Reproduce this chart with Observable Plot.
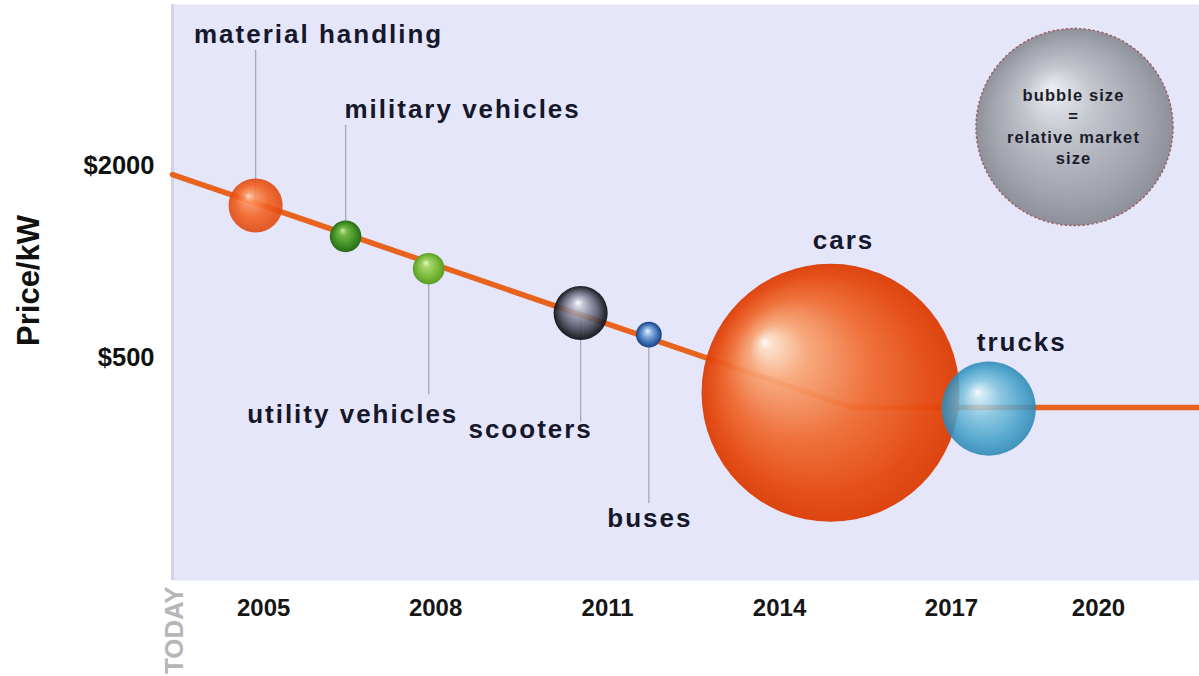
<!DOCTYPE html>
<html>
<head>
<meta charset="utf-8">
<script src="https://cdn.jsdelivr.net/npm/d3@7"></script>
<script src="https://cdn.jsdelivr.net/npm/@observablehq/plot@0.6"></script>
<style>
  html, body { margin: 0; padding: 0; background: #ffffff; }
  #chart svg { display: block; }
  g[font-size="26"] text { letter-spacing: 2px; }
  g[font-size="16.5"] text { letter-spacing: 1.1px; }
</style>
</head>
<body>
<div id="chart"></div>
<script>
// ---------- data ----------
const categories = ["material handling", "military vehicles", "utility vehicles", "scooters", "buses", "cars", "trucks"];
const years      = [2004.86, 2006.43, 2007.88, 2010.53, 2011.72, 2014.89, 2017.76];
const prices     = [1500, 1200, 950, 690, 590, 388, 346];
const marketSize = [4.4, 1.5, 1.5, 4.4, 1.0, 100, 13.3];
const trendYears  = [2003.41, 2015.24, 2022.06];
const trendPrices = [1875, 349, 349];
const xTicks = [2005, 2008, 2011, 2014, 2017, 2020];
const yTicks = [500, 2000];
const legendLines = ["bubble size", "=", "relative market", "size"];
const yTitle = "Price/kW";
const todayLabel = "TODAY";

// ---------- layout (pixel offsets for labels and leader lines) ----------
const labelLayout = {
  "material handling": {dx: 63,  dy: -171, leader: 155, up: true},
  "military vehicles": {dx: 117, dy: -127, leader: 111, up: true},
  "utility vehicles":  {dx: -76, dy: 146,  leader: 125, up: false},
  "scooters":          {dx: -50, dy: 117,  leader: 108, up: false},
  "buses":             {dx: 1,   dy: 184,  leader: 168, up: false},
  "cars":              {dx: 13,  dy: -152, leader: 0,   up: true},
  "trucks":            {dx: 33,  dy: -66,  leader: 0,   up: true}
};

// ---------- styles (sphere gradients) ----------
const sphereStyles = [
  {fx: "36%", fy: "32%", stops: [[0, "#ffd6bc", 0.9], [0.18, "#fb9460", 0.88], [0.6, "#f25d1c", 0.88], [1, "#e0480c", 0.9]]},
  {fx: "40%", fy: "30%", stops: [[0, "#c8eca0"], [0.25, "#74b848"], [0.7, "#3f8f24"], [1, "#2a6a16"]]},
  {fx: "40%", fy: "30%", stops: [[0, "#e4f6c4"], [0.25, "#a4d66a"], [0.7, "#78b838"], [1, "#5a9c24"]]},
  {fx: "45%", fy: "30%", stops: [[0, "#ffffff", 0.9], [0.2, "#b8bccc", 0.85], [0.6, "#5c6072", 0.85], [0.9, "#1e2028", 0.92], [1, "#101116", 0.95]]},
  {fx: "45%", fy: "35%", stops: [[0, "#f2f6ff"], [0.3, "#90b4e0"], [0.7, "#3f72b6"], [1, "#1c4080"]]},
  {fx: "24%", fy: "30%", stops: [[0, "#ffffff", 0.96], [0.04, "#fde2cc", 0.95], [0.22, "#f8a677", 0.94], [0.55, "#ef6a30", 0.94], [0.85, "#e5480e", 0.95], [1, "#dc3e06", 0.96]]},
  {fx: "38%", fy: "32%", stops: [[0, "#ffffff", 0.82], [0.08, "#d4ecf6", 0.82], [0.4, "#78c0dc", 0.82], [0.8, "#3d9cc6", 0.86], [1, "#2c88b4", 0.88]]}
];
const legendStyle = {fx: "38%", fy: "30%", stops: [[0, "#eeeff4"], [0.35, "#c4c6ce"], [0.8, "#a0a2ac"], [1, "#8e909a"]]};

const table = categories.map((name, i) => ({name, i, year: years[i], price: prices[i], size: marketSize[i]}));
const trend = trendYears.map((t, i) => ({year: t, price: trendPrices[i]}));

const font = "'Liberation Sans', Arial, Helvetica, sans-serif";
const labelColor = "#15172a";

const labelMarks = categories.map((c) => {
  const L = labelLayout[c];
  return Plot.text(table.filter(d => d.name === c), {
    x: "year", y: "price", text: "name",
    dx: L.dx, dy: L.dy,
    fontSize: 26, fontWeight: "bold", fill: labelColor,
    textAnchor: "middle", lineAnchor: "middle"
  });
});

const chart = Plot.plot({
  width: 1199,
  height: 676,
  marginLeft: 172,
  marginRight: 0,
  marginTop: 4,
  marginBottom: 96,
  style: {fontFamily: font, background: "#ffffff"},
  x: {type: "linear", domain: [2003.41, 2017, 2020, 2022.06], range: [172, 951, 1098, 1199]},
  y: {type: "log", domain: [100, 6400]},
  r: {type: "sqrt", domain: [0, 100], range: [0, 129]},
  color: {type: "identity"},
  length: {type: "identity"},
  marks: [
    Plot.frame({fill: "#e5e6fa", stroke: null}),
    Plot.ruleX([2003.41], {stroke: "#d4d5e3", strokeWidth: 3}),
    Plot.axisX(xTicks, {
      tickSize: 0, tickPadding: 18, fontSize: 24, fontWeight: "bold",
      tickFormat: d => String(d), label: null, fill: "#161616"
    }),
    Plot.axisY(yTicks, {
      tickSize: 0, tickPadding: 18, fontSize: 25.5, fontWeight: "bold",
      tickFormat: d => "$" + d, label: null, fill: "#111111"
    }),
    Plot.text([yTitle], {
      frameAnchor: "left", dx: -143, dy: -12, rotate: -90, textAnchor: "middle",
      fontSize: 31, fontWeight: "bold", fill: "#111111", text: d => d
    }),
    Plot.text([todayLabel], {
      frameAnchor: "bottom-left", dx: 2, dy: 6, rotate: -90, textAnchor: "end",
      lineAnchor: "middle", fontSize: 25.8, fontWeight: "bold", fill: "#b6b6b8", text: d => d
    }),
    // leader lines
    Plot.vector(table.filter(d => labelLayout[d.name].leader > 0), {
      x: "year", y: "price",
      length: d => labelLayout[d.name].leader,
      rotate: d => labelLayout[d.name].up ? 0 : 180,
      anchor: "start",
      shape: {draw(context, l) { context.moveTo(0, 0); context.lineTo(0, -l); }},
      stroke: "#a6a8ba", strokeWidth: 1.3
    }),
    // trend line
    Plot.line(trend, {x: "year", y: "price", stroke: "#e8641e", strokeWidth: 5.5}),
    // bubbles
    Plot.dot(table, {
      x: "year", y: "price", r: "size",
      fill: d => `url(#sphere-${d.i})`, stroke: null
    }),
    // legend bubble
    Plot.dot([0], {
      frameAnchor: "top-right", dx: -125, dy: 122.5, r: 98.5,
      fill: "url(#sphere-legend)", stroke: "#9a5e5e", strokeWidth: 1.4, strokeDasharray: "2.5,2"
    }),
    Plot.text([legendLines.join("\n")], {
      frameAnchor: "top-right", dx: -126, dy: 121, text: d => d,
      lineHeight: 1.28, fontSize: 16.5, fontWeight: "bold", fill: "#1a1c2a",
      textAnchor: "middle", lineAnchor: "middle"
    }),
    ...labelMarks
  ]
});

const defs = d3.select(chart).insert("defs", ":first-child");
function addGradient(id, s) {
  const g = defs.append("radialGradient").attr("id", id)
    .attr("cx", "50%").attr("cy", "50%").attr("r", "50%")
    .attr("fx", s.fx).attr("fy", s.fy);
  s.stops.forEach(([o, c, a]) => g.append("stop")
    .attr("offset", o).attr("stop-color", c).attr("stop-opacity", a ?? 1));
}
sphereStyles.forEach((s, i) => addGradient(`sphere-${i}`, s));
addGradient("sphere-legend", legendStyle);

document.getElementById("chart").appendChild(chart);
</script>
</body>
</html>
